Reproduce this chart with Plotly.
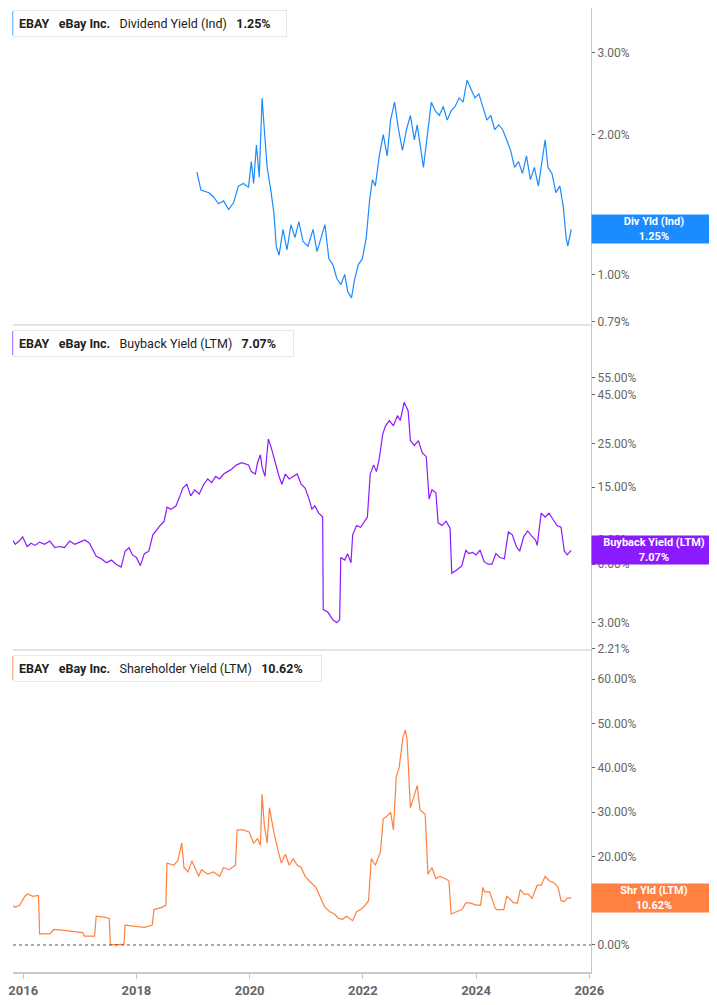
import math
import plotly.graph_objects as go
from plotly.subplots import make_subplots

# decimal-year positions and values
div_years = [2019.07, 2019.14, 2019.28, 2019.36, 2019.45, 2019.54, 2019.63, 2019.72, 2019.80, 2019.89,
             2019.98, 2020.03, 2020.07, 2020.12, 2020.17, 2020.22, 2020.26, 2020.31, 2020.38, 2020.43,
             2020.47, 2020.52, 2020.59, 2020.66, 2020.73, 2020.80, 2020.87, 2020.94, 2021.03, 2021.12,
             2021.19, 2021.26, 2021.33, 2021.40, 2021.47, 2021.54, 2021.61, 2021.68, 2021.73, 2021.80,
             2021.85, 2021.92, 2021.99, 2022.06, 2022.12, 2022.17, 2022.22, 2022.29, 2022.36, 2022.43,
             2022.49, 2022.56, 2022.63, 2022.70, 2022.77, 2022.84, 2022.91, 2022.96, 2023.01, 2023.07,
             2023.14, 2023.21, 2023.28, 2023.35, 2023.42, 2023.49, 2023.56, 2023.63, 2023.70, 2023.77,
             2023.84, 2023.91, 2023.98, 2024.05, 2024.12, 2024.19, 2024.26, 2024.33, 2024.40, 2024.47,
             2024.54, 2024.61, 2024.68, 2024.75, 2024.82, 2024.89, 2024.96, 2025.03, 2025.10, 2025.17,
             2025.22, 2025.27, 2025.34, 2025.41, 2025.48, 2025.54, 2025.59, 2025.62, 2025.68]
div_yield = [1.66, 1.52, 1.50, 1.47, 1.42, 1.44, 1.38, 1.43, 1.55, 1.57,
             1.54, 1.75, 1.57, 1.90, 1.62, 2.40, 2.05, 1.70, 1.50, 1.35,
             1.15, 1.10, 1.25, 1.13, 1.28, 1.20, 1.30, 1.18, 1.15, 1.25,
             1.12, 1.20, 1.28, 1.08, 1.05, 0.98, 0.95, 1.00, 0.92, 0.89,
             0.97, 1.05, 1.08, 1.20, 1.45, 1.60, 1.55, 1.80, 2.00, 1.80,
             2.15, 2.35, 2.05, 1.85, 2.05, 2.20, 1.95, 2.10, 1.90, 1.70,
             2.00, 2.35, 2.25, 2.20, 2.30, 2.15, 2.25, 2.30, 2.40, 2.35,
             2.62, 2.50, 2.40, 2.45, 2.30, 2.15, 2.20, 2.05, 2.10, 2.05,
             1.95, 1.85, 1.70, 1.75, 1.65, 1.80, 1.60, 1.70, 1.55, 1.75,
             1.95, 1.70, 1.65, 1.50, 1.55, 1.40, 1.20, 1.15, 1.25]

bb_years = [2015.68, 2015.73, 2015.79, 2015.86, 2015.93, 2015.99, 2016.07, 2016.14, 2016.21, 2016.29,
            2016.38, 2016.47, 2016.56, 2016.64, 2016.73, 2016.82, 2016.91, 2017.00, 2017.09, 2017.17,
            2017.29, 2017.38, 2017.47, 2017.56, 2017.64, 2017.73, 2017.80, 2017.87, 2017.93, 2018.00,
            2018.07, 2018.14, 2018.22, 2018.29, 2018.35, 2018.42, 2018.49, 2018.54, 2018.61, 2018.70,
            2018.77, 2018.82, 2018.89, 2018.96, 2019.03, 2019.11, 2019.19, 2019.26, 2019.33, 2019.40,
            2019.47, 2019.54, 2019.61, 2019.68, 2019.77, 2019.86, 2019.98, 2020.03, 2020.10, 2020.14,
            2020.19, 2020.22, 2020.27, 2020.33, 2020.38, 2020.45, 2020.52, 2020.57, 2020.63, 2020.70,
            2020.77, 2020.84, 2020.91, 2020.98, 2021.05, 2021.10, 2021.15, 2021.22, 2021.29, 2021.30,
            2021.38, 2021.47, 2021.54, 2021.59, 2021.61, 2021.68, 2021.73, 2021.79, 2021.82, 2021.89,
            2021.96, 2022.03, 2022.08, 2022.13, 2022.19, 2022.24, 2022.29, 2022.35, 2022.40, 2022.47,
            2022.54, 2022.61, 2022.66, 2022.73, 2022.80, 2022.84, 2022.91, 2022.98, 2023.05, 2023.12,
            2023.17, 2023.22, 2023.29, 2023.33, 2023.40, 2023.47, 2023.54, 2023.57, 2023.66, 2023.75,
            2023.82, 2023.87, 2023.94, 2024.00, 2024.07, 2024.14, 2024.21, 2024.28, 2024.35, 2024.42,
            2024.50, 2024.57, 2024.64, 2024.71, 2024.77, 2024.84, 2024.91, 2024.98, 2025.05, 2025.08,
            2025.15, 2025.22, 2025.29, 2025.36, 2025.43, 2025.50, 2025.56, 2025.61, 2025.68]
bb_yield = [6.7, 7.3, 8.2, 7.6, 7.9, 8.3, 7.4, 7.7, 7.5, 7.8,
            7.6, 7.9, 7.3, 7.4, 7.3, 7.9, 7.6, 7.8, 8.0, 7.7,
            6.6, 6.4, 6.1, 6.3, 6.0, 5.8, 7.0, 7.3, 6.7, 6.5,
            5.9, 6.8, 7.0, 8.5, 9.0, 9.5, 10.0, 11.8, 11.5, 12.0,
            13.5, 14.8, 15.5, 13.5, 14.5, 13.8, 15.5, 16.5, 15.8, 17.0,
            16.5, 17.5, 18.0, 18.5, 19.5, 20.0, 19.5, 18.0, 17.5, 20.0,
            22.0, 19.0, 17.0, 26.5, 24.0, 20.0, 17.0, 15.5, 17.5, 16.5,
            17.0, 17.5, 15.5, 14.8, 13.0, 11.5, 12.0, 11.0, 10.5, 3.5,
            3.4, 3.1, 3.0, 3.1, 6.5, 6.3, 6.8, 6.1, 8.5, 9.5,
            9.3, 10.0, 10.5, 17.5, 19.5, 18.0, 21.0, 28.0, 31.0, 33.0,
            31.0, 35.0, 33.0, 41.0, 37.0, 26.0, 24.5, 26.0, 22.5, 21.5,
            13.0, 14.5, 14.0, 9.8, 9.5, 10.0, 9.2, 5.4, 5.6, 5.9,
            7.1, 6.8, 6.9, 6.7, 7.1, 6.2, 6.0, 6.0, 6.8, 6.5,
            6.4, 8.8, 8.5, 7.4, 7.0, 8.3, 8.9, 8.4, 8.0, 7.5,
            11.0, 10.5, 11.0, 10.2, 9.5, 9.3, 7.0, 6.7, 7.07]

shr_years = [2015.68, 2015.79, 2015.80, 2015.86, 2015.94, 2016.03, 2016.08, 2016.17, 2016.27, 2016.29,
             2016.47, 2016.54, 2016.73, 2016.91, 2017.05, 2017.08, 2017.26, 2017.29, 2017.43, 2017.52,
             2017.54, 2017.70, 2017.78, 2017.80, 2017.96, 2018.14, 2018.28, 2018.31, 2018.45, 2018.52,
             2018.54, 2018.66, 2018.73, 2018.80, 2018.84, 2018.91, 2018.98, 2019.05, 2019.10, 2019.15,
             2019.26, 2019.36, 2019.47, 2019.54, 2019.64, 2019.75, 2019.78, 2019.89, 2019.99, 2020.07,
             2020.14, 2020.19, 2020.22, 2020.26, 2020.31, 2020.35, 2020.42, 2020.49, 2020.56, 2020.63,
             2020.70, 2020.77, 2020.84, 2020.91, 2020.98, 2021.05, 2021.12, 2021.17, 2021.33, 2021.42,
             2021.50, 2021.57, 2021.64, 2021.71, 2021.82, 2021.89, 2021.96, 2022.03, 2022.10, 2022.15,
             2022.22, 2022.31, 2022.36, 2022.42, 2022.49, 2022.54, 2022.59, 2022.64, 2022.71, 2022.75,
             2022.78, 2022.84, 2022.89, 2022.96, 2023.01, 2023.10, 2023.15, 2023.22, 2023.29, 2023.36,
             2023.45, 2023.52, 2023.56, 2023.66, 2023.75, 2023.82, 2023.89, 2024.00, 2024.08, 2024.12,
             2024.15, 2024.24, 2024.33, 2024.36, 2024.49, 2024.54, 2024.59, 2024.66, 2024.73, 2024.78,
             2024.85, 2024.92, 2024.99, 2025.08, 2025.15, 2025.22, 2025.29, 2025.38, 2025.45, 2025.50,
             2025.56, 2025.61, 2025.68]
shr_yield = [0.0, 0.5, 9.0, 8.5, 9.0, 11.0, 11.5, 11.0, 11.2, 2.5,
             2.5, 3.5, 3.3, 3.0, 2.8, 2.0, 2.0, 6.5, 6.3, 6.0,
             0.1, 0.1, 0.2, 4.5, 4.2, 4.0, 4.5, 8.0, 8.5, 9.0,
             18.5, 18.0, 19.0, 23.0, 17.5, 16.5, 19.0, 17.0, 15.5, 17.0,
             16.0, 16.5, 15.5, 17.5, 17.0, 18.0, 26.0, 26.0, 25.5, 23.0,
             24.0, 22.5, 34.0, 27.0, 23.0, 31.0, 26.0, 22.0, 18.5, 20.5,
             18.0, 19.5, 18.0, 17.5, 15.5, 14.5, 13.5, 13.0, 8.5, 7.5,
             7.0, 6.0, 5.8, 6.5, 5.5, 7.5, 8.0, 8.8, 10.0, 19.5,
             18.0, 21.0, 28.5, 29.0, 30.0, 26.0, 38.0, 40.0, 47.0, 48.5,
             46.5, 31.0, 33.0, 36.0, 30.5, 29.5, 16.0, 17.5, 15.0, 15.5,
             15.0, 14.5, 7.0, 7.5, 8.0, 9.5, 9.5, 9.0, 9.0, 13.0,
             12.0, 12.0, 8.5, 8.0, 8.0, 11.0, 10.5, 9.5, 9.5, 12.5,
             11.5, 11.5, 10.5, 13.5, 13.5, 15.5, 14.5, 14.0, 13.0, 10.0,
             9.8, 10.6, 10.62]

div_ticks = [0.79, 1.00, 2.00, 3.00]
bb_ticks = [2.21, 3.00, 6.00, 8.00, 15.00, 25.00, 45.00, 55.00]
shr_ticks = [0, 10, 20, 30, 40, 50, 60]
year_ticks = [2016, 2018, 2020, 2022, 2024, 2026]

BLUE = "#1a8cff"
PURPLE = "#8c1aff"
ORANGE = "#ff8040"
GRID = "#c8c8c8"
TXT = "#666666"
FONT = "Roboto"

fig = make_subplots(rows=3, cols=1, shared_xaxes=True, vertical_spacing=0)
fig.add_trace(go.Scatter(x=div_years, y=div_yield, mode="lines", line=dict(color=BLUE, width=1.2)), row=1, col=1)
fig.add_trace(go.Scatter(x=bb_years, y=bb_yield, mode="lines", line=dict(color=PURPLE, width=1.2)), row=2, col=1)
fig.add_trace(go.Scatter(x=shr_years, y=shr_yield, mode="lines", line=dict(color=ORANGE, width=1.2)), row=3, col=1)

PH = 964  # plot area height in px
d3 = [0, 322 / PH]
d2 = [322 / PH, 647 / PH]
d1 = [647 / PH, 1]

common_y = dict(side="right", showgrid=False, zeroline=False, ticks="outside", ticklen=3,
                tickcolor=TXT, tickfont=dict(family=FONT, size=12, color=TXT),
                showline=True, linecolor=GRID, linewidth=1)

fig.update_layout(
    yaxis=dict(domain=d1, type="log", range=[-0.109, 0.574], tickvals=div_ticks,
               ticktext=[f"{v:.2f}%" for v in div_ticks], **common_y),
    yaxis2=dict(domain=d2, type="log", range=[0.336, 2.011], tickvals=bb_ticks,
                ticktext=[f"{v:.2f}%" for v in bb_ticks], **common_y),
    yaxis3=dict(domain=d3, range=[-6.1, 66.6], tickvals=shr_ticks,
                ticktext=[f"{v:.2f}%" for v in shr_ticks], **common_y),
)
for ax in ["xaxis", "xaxis2"]:
    fig.layout[ax].update(range=[2015.82, 2026.03], showticklabels=False, showgrid=False, zeroline=False)
fig.layout.xaxis3.update(range=[2015.82, 2026.03], tickvals=year_ticks, ticktext=[str(y) for y in year_ticks],
                         showgrid=False, zeroline=False, ticks="outside", ticklen=5, tickcolor=GRID,
                         showline=True, linecolor=GRID, linewidth=2, ticklabeloverflow="allow",
                         tickfont=dict(family=FONT, size=13, color=TXT, weight="bold"))

# panel separators and zero line
for yb in [d2[0], d1[0]]:
    fig.add_shape(type="line", xref="paper", yref="paper", x0=0, x1=1, y0=yb, y1=yb,
                  line=dict(color=GRID, width=1))
fig.add_shape(type="line", xref="x3", yref="y3", x0=2015.82, x1=2026.03, y0=0, y1=0,
              line=dict(color="#555555", width=1, dash="dot"))

# header boxes
headers = [("Dividend Yield (Ind)", "1.25%", BLUE, d1[1] + 3 / PH, 278),
           ("Buyback Yield (LTM)", "7.07%", PURPLE, d2[1], 285),
           ("Shareholder Yield (LTM)", "10.62%", ORANGE, d3[1], 313)]
for name, val, col, ytop, wpx in headers:
    fig.add_annotation(xref="paper", yref="paper", x=0.0, y=ytop - 5 / PH, xanchor="left", yanchor="top",
                       text=f"<b>EBAY</b>   <b>eBay Inc.</b>   {name}   <b>{val}</b>",
                       showarrow=False, align="left", bgcolor="white", bordercolor="#e6e6e6",
                       borderwidth=1, borderpad=5, width=wpx - 16,
                       font=dict(family=FONT, size=12.5, color="#222222"))
    fig.add_shape(type="rect", xref="paper", yref="paper", x0=-0.001, x1=0.003,
                  y0=ytop - 30 / PH, y1=ytop - 6 / PH, fillcolor=col, line=dict(width=0))

# last value tags on the right
tags = [("Div Yld (Ind)", "1.25%", BLUE, "y", 1.25),
        ("Buyback Yield (LTM)", "7.07%", PURPLE, "y2", 7.07),
        ("Shr Yld (LTM)", "10.62%", ORANGE, "y3", 10.62)]
for name, val, col, yref, yv in tags:
    yy = math.log10(yv) if yref != "y3" else yv
    fig.add_annotation(xref="paper", yref=yref, x=1.0, y=yy, xanchor="left", yanchor="middle",
                       text=f"<b>{name}<br>{val}</b>", showarrow=False, bgcolor=col,
                       width=122, height=26, borderpad=1, align="center",
                       font=dict(family=FONT, size=11, color="white"))

fig.update_layout(width=717, height=1005, margin=dict(l=0, r=134, t=0, b=41),
                  plot_bgcolor="white", paper_bgcolor="white", showlegend=False,
                  font=dict(family=FONT))
fig.write_html("out.html")
